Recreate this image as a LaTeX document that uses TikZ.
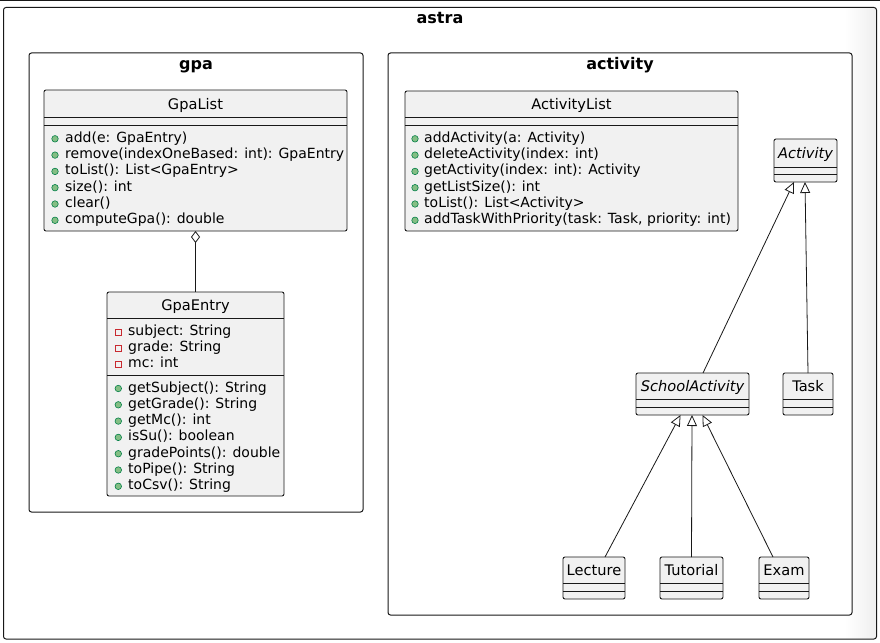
\documentclass[tikz,border=0pt]{standalone}
\usepackage{fontspec}
\setmainfont{DejaVu Sans}
\usetikzlibrary{arrows.meta,calc}
\definecolor{classbg}{HTML}{F1F1F1}
\definecolor{lineclr}{HTML}{181818}
\definecolor{pubfill}{HTML}{84BE84}
\definecolor{publine}{HTML}{038048}
\definecolor{privline}{HTML}{C82930}
\definecolor{shadowclr}{HTML}{EFEFEF}
\begin{document}
\begin{tikzpicture}[x=1pt,y=-1pt,
 pkg/.style={draw=lineclr, line width=1pt, rounded corners=2.5pt, fill=white},
 cls/.style={draw=lineclr, line width=0.9pt, rounded corners=2pt, fill=classbg, inner sep=0pt, outer sep=0pt},
 sep/.style={draw=lineclr, line width=0.9pt},
 cname/.style={anchor=base, inner sep=0pt, font=\fontsize{14.6}{17}\selectfont},
 mem/.style={anchor=base west, inner sep=0pt, font=\fontsize{14}{16}\selectfont},
 ptitle/.style={anchor=base, inner sep=0pt, font=\fontsize{16}{18}\selectfont\bfseries},
 pub/.style={circle, draw=publine, fill=pubfill, line width=0.6pt, minimum size=6.5pt, inner sep=0pt},
 priv/.style={rectangle, draw=privline, line width=0.8pt, minimum size=6pt, inner sep=0pt},
 inh/.style={draw=lineclr, line width=0.8pt, -{Triangle[open, length=11pt, width=10pt, fill=white]}},
 agg/.style={draw=lineclr, line width=0.8pt, {Diamond[open, length=12pt, width=9pt, fill=white]}-},
]
\useasboundingbox (0,0) rectangle (880,642);
\fill[white] (0,0) rectangle (880,642);
\draw[lineclr, line width=1pt] (0,0.5) -- (880,0.5);

% outer package
\node[pkg, draw=none, minimum width=872pt, minimum height=630.5pt, inner sep=0pt] (astra) at (440,323.25) {};
\shade[left color=white, right color=shadowclr] (845,9) rectangle (875.5,638);
\draw[lineclr, line width=1pt, rounded corners=2.5pt] (astra.north west) rectangle (astra.south east);
\node[ptitle] (astratitle) at (440,24) {astra};

% gpa package
\node[pkg, minimum width=334pt, minimum height=459pt, inner sep=0pt] (gpa) at (196,282.5) {};
\node[ptitle] (gpatitle) at (196,70) {gpa};

% activity package
\node[pkg, minimum width=464pt, minimum height=562pt, inner sep=0pt] (activity) at (620,334) {};
\node[ptitle] (activitytitle) at (620,70) {activity};

% GpaList
\node[cls, minimum width=303pt, minimum height=141pt] (gpalist) at (195.5,160.5) {};
\draw[sep] (gpalist.west |- 0,117) -- (gpalist.east |- 0,117);
\draw[sep] (gpalist.west |- 0,125) -- (gpalist.east |- 0,125);
\node[cname] (gpalistname) at (195.5,109) {GpaList};
\foreach \t [count=\i] in {{add(e: GpaEntry)},{remove(indexOneBased: int): GpaEntry},{toList(): List<GpaEntry>},{size(): int},{clear()},{computeGpa(): double}}{
  \node[pub] (glv\i) at (55,{142.3+16.3*(\i-1)-3.5}) {};
  \node[mem] (glm\i) at (65,{142.3+16.3*(\i-1)}) {\t};
}

% GpaEntry
\node[cls, minimum width=177pt, minimum height=204pt] (gpaentry) at (195.5,394) {};
\draw[sep] (gpaentry.west |- 0,318) -- (gpaentry.east |- 0,318);
\draw[sep] (gpaentry.west |- 0,375) -- (gpaentry.east |- 0,375);
\node[cname] (gpaentryname) at (195.5,310.5) {GpaEntry};
\foreach \t [count=\i] in {{subject: String},{grade: String},{mc: int}}{
  \node[priv] (gev\i) at (118.3,{335+16.3*(\i-1)-3}) {};
  \node[mem] (gem\i) at (128,{335+16.3*(\i-1)}) {\t};
}
\foreach \t [count=\i] in {{getSubject(): String},{getGrade(): String},{getMc(): int},{isSu(): boolean},{gradePoints(): double},{toPipe(): String},{toCsv(): String}}{
  \node[pub] (gmv\i) at (118.3,{392+16.3*(\i-1)-3.5}) {};
  \node[mem] (gmm\i) at (128,{392+16.3*(\i-1)}) {\t};
}

% ActivityList
\node[cls, minimum width=333pt, minimum height=140pt] (activitylist) at (571.5,161) {};
\draw[sep] (activitylist.west |- 0,117) -- (activitylist.east |- 0,117);
\draw[sep] (activitylist.west |- 0,125) -- (activitylist.east |- 0,125);
\node[cname] (activitylistname) at (571.5,109) {ActivityList};
\foreach \t [count=\i] in {{addActivity(a: Activity)},{deleteActivity(index: int)},{getActivity(index: int): Activity},{getListSize(): int},{toList(): List<Activity>},{addTaskWithPriority(task: Task, priority: int)}}{
  \node[pub] (alv\i) at (415,{142.3+16.3*(\i-1)-3.5}) {};
  \node[mem] (alm\i) at (424,{142.3+16.3*(\i-1)}) {\t};
}

% Activity
\node[cls, minimum width=63pt, minimum height=43pt] (act) at (805.5,160.5) {};
\draw[sep] (act.west |- 0,167) -- (act.east |- 0,167);
\draw[sep] (act.west |- 0,174) -- (act.east |- 0,174);
\node[cname, font=\fontsize{14.6}{17}\selectfont\itshape] (actname) at (805.5,158) {Activity};

% SchoolActivity
\node[cls, minimum width=113pt, minimum height=42pt] (sa) at (692.5,394) {};
\draw[sep] (sa.west |- 0,399) -- (sa.east |- 0,399);
\draw[sep] (sa.west |- 0,407) -- (sa.east |- 0,407);
\node[cname, font=\fontsize{14.6}{17}\selectfont\itshape] (saname) at (692.5,391) {SchoolActivity};

% Task
\node[cls, minimum width=50pt, minimum height=42pt] (task) at (808,394) {};
\draw[sep] (task.west |- 0,399) -- (task.east |- 0,399);
\draw[sep] (task.west |- 0,407) -- (task.east |- 0,407);
\node[cname] (taskname) at (808,391) {Task};

% Lecture, Tutorial, Exam
\node[cls, minimum width=62pt, minimum height=42pt] (lecture) at (594,578) {};
\node[cls, minimum width=63pt, minimum height=42pt] (tutorial) at (691.5,578) {};
\node[cls, minimum width=50pt, minimum height=42pt] (exam) at (784,578) {};
\foreach \n in {lecture,tutorial,exam}{
  \draw[sep] (\n.west |- 0,583) -- (\n.east |- 0,583);
  \draw[sep] (\n.west |- 0,591) -- (\n.east |- 0,591);
}
\node[cname] (lecturename) at (594,575) {Lecture};
\node[cname] (tutorialname) at (691.5,575) {Tutorial};
\node[cname] (examname) at (784,575) {Exam};

% connectors
\draw[agg] (gpalist.south) -- (gpaentry.north);
\draw[inh] ([xshift=10.5pt]sa.north) -- ([xshift=-11.5pt]act.south);
\draw[inh] (task.north) -- ([xshift=-0.5pt]act.south);
\draw[inh] ([xshift=11pt]lecture.north) -- ([xshift=-12pt]sa.south);
\draw[inh] (tutorial.north) -- ([xshift=-0.5pt]sa.south);
\draw[inh] ([xshift=-11pt]exam.north) -- ([xshift=10pt]sa.south);
\end{tikzpicture}
\end{document}
